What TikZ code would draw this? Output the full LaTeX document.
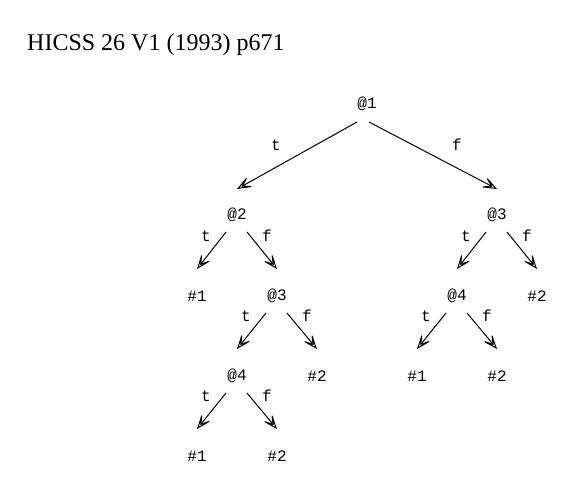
\documentclass[tikz,border=0pt]{standalone}
\usepackage{fontspec}
\setmainfont{Liberation Serif}
\newfontfamily\monofnt{Liberation Mono}
\usetikzlibrary{arrows.meta}
\begin{document}
\begin{tikzpicture}[x=1pt,y=-1pt,
  lbl/.style={font=\monofnt\fontsize{16}{16}\selectfont, inner sep=0pt},
  elbl/.style={font=\monofnt\fontsize{16}{16}\selectfont, inner sep=0pt},
  edge/.style={line width=1pt, -{Stealth[length=18pt,width=14pt,inset=11pt,open,line width=1pt]}}]
\useasboundingbox (0,0) rectangle (588,488);
\node[anchor=west, inner sep=0pt, font=\fontsize{24}{24}\selectfont] (title) at (27,45) {HICSS 26 V1 (1993) p671};
% nodes
\node[lbl] (n1) at (367,104) {@1};
\node[lbl] (n2) at (237,215) {@2};
\node[lbl] (n3r) at (497,215) {@3};
\node[lbl] (h1a) at (197,296) {\#1};
\node[lbl] (n3l) at (277,296) {@3};
\node[lbl] (n4r) at (457,296) {@4};
\node[lbl] (h2a) at (537,296) {\#2};
\node[lbl] (n4l) at (237,376) {@4};
\node[lbl] (h2b) at (317,376) {\#2};
\node[lbl] (h1c) at (417,376) {\#1};
\node[lbl] (h2c) at (497,376) {\#2};
\node[lbl] (h1b) at (197,456) {\#1};
\node[lbl] (h2d) at (277,456) {\#2};
% edges
\draw[edge] ([shift={(-10,18)}]n1.center) -- ([shift={(0,-26)}]n2.center);
\draw[edge] ([shift={(2,18)}]n1.center) -- ([shift={(0,-26)}]n3r.center);
\draw[edge] ([shift={(-11,17)}]n2.center) -- ([shift={(0,-27)}]h1a.center);
\draw[edge] ([shift={(10,17)}]n2.center) -- ([shift={(0,-27)}]n3l.center);
\draw[edge] ([shift={(-11,17)}]n3l.center) -- ([shift={(0,-27)}]n4l.center);
\draw[edge] ([shift={(10,17)}]n3l.center) -- ([shift={(0,-27)}]h2b.center);
\draw[edge] ([shift={(-11,17)}]n4l.center) -- ([shift={(0,-27)}]h1b.center);
\draw[edge] ([shift={(10,17)}]n4l.center) -- ([shift={(0,-27)}]h2d.center);
\draw[edge] ([shift={(-11,17)}]n3r.center) -- ([shift={(0,-27)}]n4r.center);
\draw[edge] ([shift={(10,17)}]n3r.center) -- ([shift={(0,-27)}]h2a.center);
\draw[edge] ([shift={(-11,17)}]n4r.center) -- ([shift={(0,-27)}]h1c.center);
\draw[edge] ([shift={(10,17)}]n4r.center) -- ([shift={(0,-27)}]h2c.center);
% edge labels
\node[elbl] (l1) at (276,145) {t};
\node[elbl] (l2) at (457,145) {f};
\node[elbl] (l3) at (206,236) {t};
\node[elbl] (l4) at (267,236) {f};
\node[elbl] (l5) at (466,236) {t};
\node[elbl] (l6) at (527,236) {f};
\node[elbl] (l7) at (246,316) {t};
\node[elbl] (l8) at (307,316) {f};
\node[elbl] (l9) at (426,316) {t};
\node[elbl] (l10) at (487,316) {f};
\node[elbl] (l11) at (206,396) {t};
\node[elbl] (l12) at (267,396) {f};
\end{tikzpicture}
\end{document}
